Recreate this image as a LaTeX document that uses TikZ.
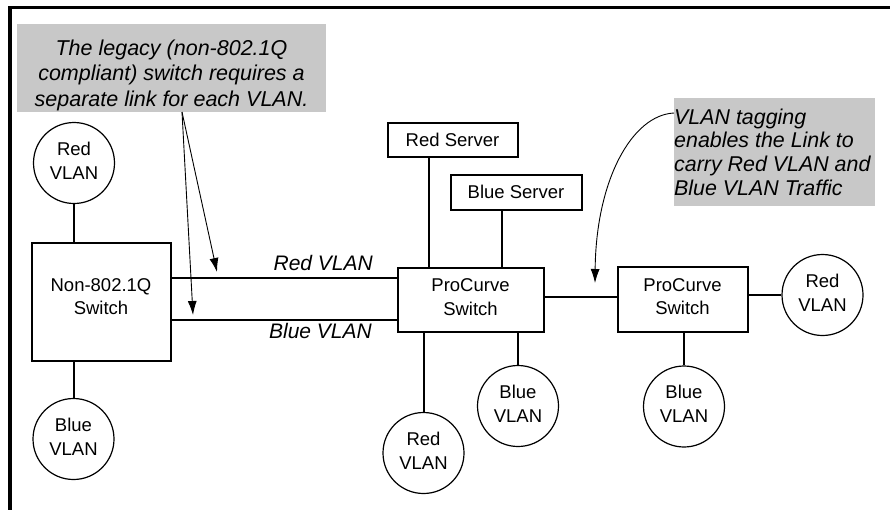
\documentclass[tikz,border=0pt]{standalone}
\usepackage{fontspec}
\setmainfont{Liberation Sans}
\usetikzlibrary{arrows.meta}
\definecolor{notegray}{RGB}{200,200,200}
\newcommand{\xdep}[1]{\rule[-#1]{0pt}{#1}}
\begin{document}
\begin{tikzpicture}[x=1pt,y=-1pt,
  box/.style={draw,line width=2pt,inner sep=0pt,align=center,font=\fontsize{18.5}{23.5}\selectfont},
  vlan/.style={draw,circle,line width=1.2pt,minimum size=81pt,inner sep=0pt,align=center,font=\fontsize{18.5}{24}\selectfont},
  link/.style={line width=2pt},
  lbl/.style={inner sep=0pt,font=\fontsize{21}{25}\selectfont\itshape},
  pointer/.style={line width=0.9pt,-{Latex[length=14pt,width=9pt]}},
  notebox/.style={fill=notegray,inner sep=0pt},
  notetext/.style={inner sep=0pt,font=\fontsize{21.5}{25.5}\selectfont\itshape}
]
\useasboundingbox (0,0) rectangle (890,509);
% frame
\draw[line width=3.5pt] (10,512) -- (10,7.5) -- (895,7.5);

% notes (anchor base = baseline of the last line)
\node[notebox,minimum width=309pt,minimum height=88pt] (note1) at (171.5,68) {};
\node[notetext,align=center,anchor=base] (note1text) at (171.5,106)
  {The legacy (non-802.1Q\\compliant) switch requires a\\separate link for each VLAN.};
\node[notebox,minimum width=201pt,minimum height=108pt] (note2) at (774.5,152) {};
\node[notetext,align=left,anchor=base west,font=\fontsize{21.4}{23.6}\selectfont\itshape] (note2text) at (674,195)
  {VLAN tagging\\enables the Link to\\carry Red VLAN and\\Blue VLAN Traffic};

% boxes
\node[box,minimum width=139pt,minimum height=118pt] (legacy) at (101,301.5) {Non-802.1Q\\Switch\xdep{9.5pt}};
\node[box,minimum width=146pt,minimum height=64pt] (pc1) at (470.5,299.5) {ProCurve\\Switch\xdep{5pt}};
\node[box,minimum width=130pt,minimum height=65pt] (pc2) at (682.5,299) {ProCurve\\Switch\xdep{5pt}};
\node[box,minimum width=130pt,minimum height=34pt] (redsrv) at (452.5,139.5) {Red Server};
\node[box,minimum width=131pt,minimum height=35pt] (bluesrv) at (516,192) {Blue Server};

% VLAN circles
\node[vlan] (red1) at (74,163) {Red\\VLAN\xdep{5pt}};
\node[vlan] (blue1) at (73.5,439) {Blue\\VLAN\xdep{5pt}};
\node[vlan] (red2) at (423.5,453) {Red\\VLAN\xdep{5pt}};
\node[vlan] (blue2) at (518,406) {Blue\\VLAN\xdep{5pt}};
\node[vlan] (blue3) at (684,406.5) {Blue\\VLAN\xdep{5pt}};
\node[vlan] (red3) at (822.5,295) {Red\\VLAN\xdep{5pt}};

% connectors
\draw[link] (red1.south) -- (red1.south |- legacy.north);
\draw[link] (blue1.north) -- (blue1.north |- legacy.south);
\draw[link] (legacy.east |- 0,277.5) -- (pc1.west |- 0,277.5);
\draw[link] (legacy.east |- 0,320) -- (pc1.west |- 0,320);
\draw[link] (redsrv.south -| 429,0) -- (pc1.north -| 429,0);
\draw[link] (bluesrv.south -| 502,0) -- (pc1.north -| 502,0);
\draw[link] (red2.north) -- (red2.north |- pc1.south);
\draw[link] (blue2.north) -- (blue2.north |- pc1.south);
\draw[link] (pc1.east |- 0,297) -- (pc2.west |- 0,297);
\draw[link] (red3.west -| pc2.east) -- (red3.west);
\draw[link] (blue3.north) -- (blue3.north |- pc2.south);

% link labels
\node[lbl,anchor=base east] (redlbl) at (373,270) {Red VLAN};
\node[lbl,anchor=base east] (bluelbl) at (372,338.5) {Blue VLAN};

% pointers
\coordinate (n1a) at (182,112);
\coordinate (tipred) at (217,272);
\coordinate (tipblue) at (193,315);
\draw[pointer] (n1a) -- (tipred);
\draw[pointer] (n1a) -- (tipblue);
\coordinate (n2a) at (674,113);
\coordinate (tiptag) at (595,283);
\draw[pointer] (n2a) .. controls (632,115) and (596,180) .. (tiptag);
\end{tikzpicture}
\end{document}
